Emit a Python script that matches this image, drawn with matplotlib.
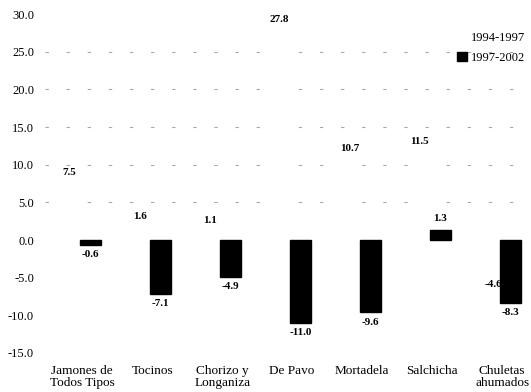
import matplotlib
matplotlib.use("Agg")
import matplotlib.pyplot as plt
import matplotlib.patches as mpatches
import numpy as np

categories = ["Jamones de\nTodos Tipos", "Tocinos", "Chorizo y\nLonganiza", "De Pavo",
              "Mortadela", "Salchicha", "Chuletas\nahumados"]
series_names = ["1994-1997", "1997-2002"]
vals_9497 = [7.5, 1.6, 1.1, 27.8, 10.7, 11.5, -4.6]
vals_9702 = [-0.6, -7.1, -4.9, -11.0, -9.6, 1.3, -8.3]
yticks = [-15, -10, -5, 0, 5, 10, 15, 20, 25, 30]

plt.rcParams["font.family"] = ["Liberation Serif", "DejaVu Serif"]

fig = plt.figure(figsize=(5.31, 3.92), dpi=100)
ax = fig.add_axes([0.085, 0.0995, 0.915, 0.8645])

x = np.arange(len(categories))
w = 0.3

# faint broken gridlines on the positive side
for g in [5, 10, 15, 20, 25]:
    ax.axhline(g, color="#a8a8a8", lw=0.8, dashes=(3, 16), zorder=0)

b1 = ax.bar(x - w / 2, vals_9497, w, color="white", edgecolor="none", zorder=2)
b2 = ax.bar(x + w / 2, vals_9702, w, color="black", edgecolor="black", zorder=3)

lab_kw = dict(ha="center", fontsize=8, fontweight="bold", textcoords="offset points")
for xi, v in zip(x - w / 2, vals_9497):
    if v >= 0:
        ax.annotate(f"{v:.1f}", (xi, v), xytext=(0, 5), va="bottom", **lab_kw)
    else:
        ax.annotate(f"{v:.1f}", (xi + 0.05, v), xytext=(0, -4), va="top", **lab_kw)
for xi, v in zip(x + w / 2, vals_9702):
    if v >= 0:
        ax.annotate(f"{v:.1f}", (xi, v), xytext=(0, 5), va="bottom", **lab_kw)
    else:
        ax.annotate(f"{v:.1f}", (xi, v), xytext=(0, -4), va="top", **lab_kw)

ax.set_xlim(-0.5, 6.443)
ax.set_ylim(-15, 30)
ax.set_yticks(yticks)
ax.set_yticklabels([f"{t:.1f}" for t in yticks], fontsize=9)
ax.set_xticks(x + 0.03)
ax.set_xticklabels(categories, fontsize=9.5, linespacing=0.95)
ax.tick_params(axis="both", length=0)
ax.tick_params(axis="x", pad=9)
ax.tick_params(axis="y", pad=8)
for s in ax.spines.values():
    s.set_visible(False)

handles = [mpatches.Patch(facecolor="white", edgecolor="none"),
           mpatches.Patch(facecolor="black", edgecolor="black")]
ax.legend(handles, series_names, loc="upper right", bbox_to_anchor=(1.0, 0.965),
          frameon=False, fontsize=9, handlelength=0.8, handleheight=0.8,
          handletextpad=0.3, labelspacing=0.6, borderaxespad=0.1)

fig.savefig("out.png", dpi=100)
